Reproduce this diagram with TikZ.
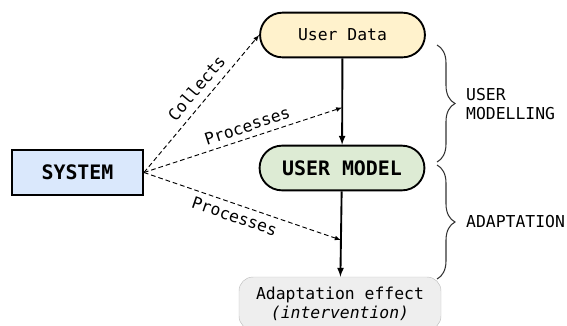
\documentclass[tikz,border=0pt]{standalone}
\usepackage{fontspec}
\setmonofont{DejaVu Sans Mono}
\usepackage{tikz}
\usetikzlibrary{shapes,arrows,decorations.pathreplacing,calc,positioning}
\definecolor{datafill}{HTML}{FFF2CC}
\definecolor{modelfill}{HTML}{DDEBD4}
\definecolor{sysfill}{HTML}{DAE8FC}
\definecolor{effectfill}{HTML}{EEEEEE}

\begin{document}
\begin{tikzpicture}[x=0.03cm,y=-0.03cm,
		font=\ttfamily\fontsize{14}{16}\selectfont,
		pill/.style={draw,rounded rectangle,line width=1.6pt,minimum width=5.18cm,minimum height=1.34cm},
		flow/.style={-latex,line width=1.6pt},
		link/.style={-latex,dash pattern=on 4pt off 2.5pt,line width=0.8pt},
		brc/.style={decorate,decoration={brace,amplitude=5.4mm},line width=0.9pt,draw=black!80}]
	\useasboundingbox (0,0) rectangle (567,325);
	\node[pill,fill=datafill] (data) at (342.5,35) {User Data};
	\node[pill,fill=modelfill,font=\ttfamily\bfseries\fontsize{17}{20}\selectfont] (model) at (342,168) {USER MODEL};
	\node[draw,fill=sysfill,line width=1.6pt,minimum width=3.93cm,minimum height=1.35cm,font=\ttfamily\bfseries\fontsize{17}{20}\selectfont] (sys) at (77.5,172.5) {SYSTEM};
	\node[draw=black!25,fill=effectfill,rounded corners=12pt,minimum width=6.06cm,minimum height=1.59cm,align=center] (effect) at (340,303.5) {Adaptation effect\\\textit{(intervention)}};
	\draw[flow] (data) -- (model);
	\draw[flow] (model) -- (effect);
	\coordinate (p1) at ($(data.south)!0.57!(model.north)$);
	\coordinate (p2) at ($(model.south)!0.57!(effect.north)$);
	\draw[link] (sys.east) -- node[pos=0.55,sloped,above=1mm] {Collects} (data.west);
	\draw[link] (sys.east) -- node[pos=0.54,sloped,above=0.5mm] {Processes} (p1);
	\draw[link] (sys.east) -- node[pos=0.48,sloped,below=0.5mm] {Processes} (p2);
	% braces on the right
	\coordinate (b1) at (437,45);
	\coordinate (b2) at (437,162);
	\coordinate (b3) at (437,165);
	\coordinate (b4) at (437,279);
	\draw[brc] (b1) -- (b2);
	\draw[brc] (b3) -- (b4);
	\node[anchor=west,align=left] (um) at (462,104) {USER\\MODELLING};
	\node[anchor=west] (ad) at (462,222) {ADAPTATION};
\end{tikzpicture}
\end{document}
